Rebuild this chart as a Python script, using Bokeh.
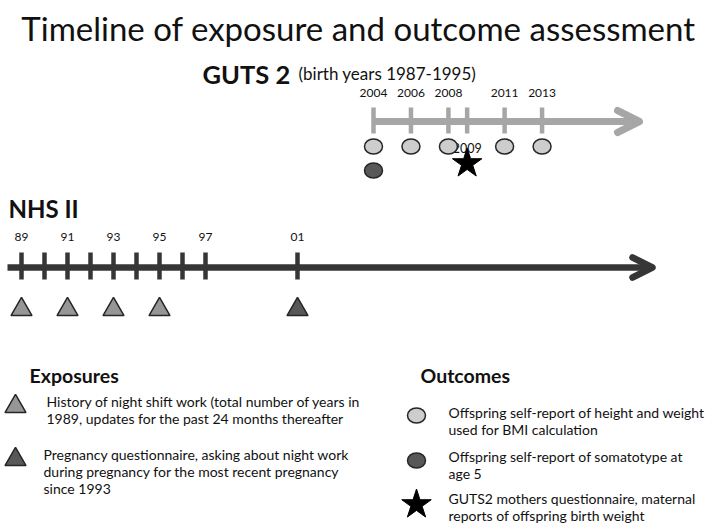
from bokeh.plotting import figure
from bokeh.models import Range1d, Arrow, OpenHead
from bokeh.core.properties import value
from bokeh.embed import file_html
from bokeh.resources import INLINE

# ---------------- data ----------------
TITLE = "Timeline of exposure and outcome assessment"
GUTS_NAME = "GUTS 2"
GUTS_NOTE = "(birth years 1987-1995)"
NHS_NAME = "NHS II"

GUTS_TICK_YEARS = [2004, 2006, 2008, 2009, 2011, 2013]
GUTS_LABEL_YEARS = [2004, 2006, 2008, 2011, 2013]
GUTS_BMI_YEARS = [2004, 2006, 2008, 2011, 2013]          # light circles
GUTS_SOMATOTYPE_YEARS = [2004]                            # dark circle
GUTS_BIRTHWEIGHT_YEARS = [2009]                           # star

NHS_TICK_YEARS = [1989, 1990, 1991, 1992, 1993, 1994, 1995, 1996, 1997, 2001]
NHS_LABEL_YEARS = [1989, 1991, 1993, 1995, 1997, 2001]
NHS_NIGHTSHIFT_YEARS = [1989, 1991, 1993, 1995]           # light triangles
NHS_PREGNANCY_YEARS = [2001]                              # dark triangle

EXPOSURES_TITLE = "Exposures"
EXPOSURE_1 = ["History of night shift work (total number of years in",
              "1989, updates for the past 24 months thereafter"]
EXPOSURE_2 = ["Pregnancy questionnaire, asking about night work",
              "during pregnancy for the most recent pregnancy",
              "since 1993"]
OUTCOMES_TITLE = "Outcomes"
OUTCOME_1 = ["Offspring self-report of height and weight",
             "used for BMI calculation"]
OUTCOME_2 = ["Offspring self-report of somatotype at", "age 5"]
OUTCOME_3 = ["GUTS2 mothers questionnaire, maternal",
             "reports of offspring birth weight"]

# ---------------- layout / style ----------------
W, H = 709, 524
X_LO, X_HI = 0, 709
Y_TOP, Y_BOT = 0, 524
FONT = value("Lato")

# time scales (diagram is schematic)
GUTS_ORIGIN_YEAR, GUTS_ORIGIN_PX, GUTS_PX_PER_YEAR = 2004, 373, 18.73
NHS_ORIGIN_YEAR, NHS_ORIGIN_PX, NHS_PX_PER_YEAR = 1989, 21, 23.0


def guts_year(px):
    return GUTS_ORIGIN_YEAR + (px - GUTS_ORIGIN_PX) / GUTS_PX_PER_YEAR


def nhs_year(px):
    return NHS_ORIGIN_YEAR + (px - NHS_ORIGIN_PX) / NHS_PX_PER_YEAR


GUTS_GRAY = "#a6a6a6"
NHS_DARK = "#363636"
LIGHT_FILL = "#cdcdcd"
DARK_FILL = "#585858"
TRI_LIGHT = "#969696"
OUTLINE = "#262626"
INK = "#111111"

p = figure(width=W, height=H, x_range=Range1d(X_LO, X_HI), y_range=Range1d(Y_BOT, Y_TOP),
           output_backend="svg", toolbar_location=None, min_border=0,
           x_axis_location=None, y_axis_location=None)
p.grid.visible = False
p.outline_line_color = None
p.background_fill_color = "white"
p.border_fill_color = "white"
p.extra_x_ranges = {
    "guts": Range1d(guts_year(X_LO), guts_year(X_HI)),
    "nhs": Range1d(nhs_year(X_LO), nhs_year(X_HI)),
}

# ---------------- title ----------------
p.text(x=[358], y=[27], text=[TITLE], text_font=FONT, text_font_size="33px",
       text_align="center", text_baseline="alphabetic", text_color=INK)

# ---------------- GUTS timeline ----------------
p.text(x=[202], y=[73], text=[GUTS_NAME], text_font=FONT, text_font_size="25.5px",
       text_font_style="bold", text_baseline="alphabetic", text_color=INK)
p.text(x=[298], y=[73], text=[GUTS_NOTE], text_font=FONT, text_font_size="17px",
       text_baseline="alphabetic", text_color=INK)

GUTS_AXIS_Y = 121
p.add_layout(Arrow(x_start=GUTS_TICK_YEARS[0], y_start=GUTS_AXIS_Y,
                   x_end=guts_year(639), y_end=GUTS_AXIS_Y, x_range_name="guts",
                   line_color=GUTS_GRAY, line_width=7,
                   end=OpenHead(size=22, line_color=GUTS_GRAY, line_width=7,
                                line_cap="round", line_join="round")))
p.segment(x0=GUTS_TICK_YEARS, x1=GUTS_TICK_YEARS, y0=[107] * len(GUTS_TICK_YEARS),
          y1=[133] * len(GUTS_TICK_YEARS), line_color=GUTS_GRAY, line_width=4.5,
          x_range_name="guts")
p.text(x=GUTS_LABEL_YEARS, y=[92] * len(GUTS_LABEL_YEARS),
       text=[str(y) for y in GUTS_LABEL_YEARS], text_font=FONT, text_font_size="12px",
       text_align="center", text_baseline="alphabetic", text_color=INK,
       x_range_name="guts")
p.text(x=GUTS_BIRTHWEIGHT_YEARS, y=[147], text=[str(y) for y in GUTS_BIRTHWEIGHT_YEARS],
       text_font=FONT, text_font_size="12.5px", text_align="center",
       text_baseline="alphabetic", text_color=INK, x_range_name="guts")

p.ellipse(x=GUTS_BMI_YEARS, y=[146] * len(GUTS_BMI_YEARS), width=18, height=15,
          width_units="screen", height_units="screen", fill_color=LIGHT_FILL,
          line_color=OUTLINE, line_width=1.5, x_range_name="guts")
p.ellipse(x=GUTS_SOMATOTYPE_YEARS, y=[170] * len(GUTS_SOMATOTYPE_YEARS), width=18, height=15,
          width_units="screen", height_units="screen", fill_color=DARK_FILL,
          line_color=OUTLINE, line_width=1.5, x_range_name="guts")
p.scatter(x=GUTS_BIRTHWEIGHT_YEARS, y=[163] * len(GUTS_BIRTHWEIGHT_YEARS), marker="star",
          size=31, fill_color="black", line_color="black", x_range_name="guts")

# ---------------- NHS II timeline ----------------
p.text(x=[8], y=[208], text=[NHS_NAME], text_font=FONT, text_font_size="24px",
       text_font_style="bold", text_baseline="alphabetic", text_color=INK)

NHS_AXIS_Y = 267
p.add_layout(Arrow(x_start=nhs_year(7), y_start=NHS_AXIS_Y,
                   x_end=nhs_year(652), y_end=NHS_AXIS_Y, x_range_name="nhs",
                   line_color=NHS_DARK, line_width=6.5,
                   end=OpenHead(size=20, line_color=NHS_DARK, line_width=6.5,
                                line_cap="round", line_join="round")))
p.segment(x0=NHS_TICK_YEARS, x1=NHS_TICK_YEARS, y0=[252] * len(NHS_TICK_YEARS),
          y1=[279] * len(NHS_TICK_YEARS), line_color=NHS_DARK, line_width=4.5,
          x_range_name="nhs")
p.text(x=NHS_LABEL_YEARS, y=[236] * len(NHS_LABEL_YEARS),
       text=[f"{y % 100:02d}" for y in NHS_LABEL_YEARS], text_font=FONT,
       text_font_size="12px", text_align="center", text_baseline="alphabetic",
       text_color=INK, x_range_name="nhs")
p.scatter(x=NHS_NIGHTSHIFT_YEARS, y=[309] * len(NHS_NIGHTSHIFT_YEARS), marker="triangle",
          size=21, fill_color=TRI_LIGHT, line_color=OUTLINE, line_width=1.5,
          x_range_name="nhs")
p.scatter(x=NHS_PREGNANCY_YEARS, y=[309] * len(NHS_PREGNANCY_YEARS), marker="triangle",
          size=21, fill_color=DARK_FILL, line_color=OUTLINE, line_width=1.5,
          x_range_name="nhs")

# ---------------- key ----------------
def lines(x, y0, rows, size="14px", step=17):
    p.text(x=[x] * len(rows), y=[y0 + i * step for i in range(len(rows))], text=rows,
           text_font=FONT, text_font_size=size, text_baseline="alphabetic",
           text_color=INK)


p.text(x=[29], y=[375], text=[EXPOSURES_TITLE], text_font=FONT, text_font_size="19.5px",
       text_font_style="bold", text_baseline="alphabetic", text_color=INK)
p.text(x=[420], y=[375], text=[OUTCOMES_TITLE], text_font=FONT, text_font_size="19.5px",
       text_font_style="bold", text_baseline="alphabetic", text_color=INK)

p.scatter(x=[15], y=[406], marker="triangle", size=21, fill_color=TRI_LIGHT,
          line_color=OUTLINE, line_width=1.5)
lines(46, 401, EXPOSURE_1)
p.scatter(x=[15], y=[459], marker="triangle", size=21, fill_color=DARK_FILL,
          line_color=OUTLINE, line_width=1.5)
lines(43, 454, EXPOSURE_2)

p.ellipse(x=[416], y=[415], width=18, height=15, width_units="screen",
          height_units="screen", fill_color=LIGHT_FILL, line_color=OUTLINE, line_width=1.5)
lines(448, 412, OUTCOME_1)
p.ellipse(x=[416], y=[460], width=18, height=15, width_units="screen",
          height_units="screen", fill_color=DARK_FILL, line_color=OUTLINE, line_width=1.5)
lines(448, 456, OUTCOME_2)
p.scatter(x=[416], y=[504], marker="star", size=31, fill_color="black", line_color="black")
lines(448, 498, OUTCOME_3)

open("out.html", "w").write(file_html(p, INLINE))
